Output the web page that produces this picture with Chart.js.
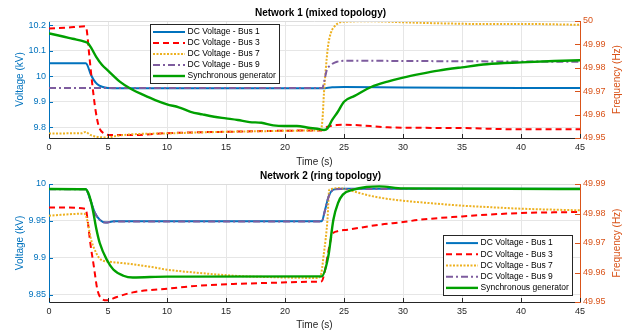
<!DOCTYPE html>
<html>
<head>
<meta charset="utf-8">
<script src="https://cdn.jsdelivr.net/npm/chart.js@4/dist/chart.umd.min.js"></script>
<style>
  html, body { margin: 0; padding: 0; background: #fff; }
  #wrap { position: relative; width: 641px; height: 331px; overflow: hidden; }
  canvas { position: absolute; left: 0; }
  #c1 { top: 0; }
  #c2 { top: 166px; }
</style>
</head>
<body>
<div id="wrap">
  <canvas id="c1" width="641" height="168"></canvas>
  <canvas id="c2" width="641" height="165"></canvas>
</div>
<script>
// ---- Network 1 (mixed topology) ----
const n1Bus1T = [0, 3.1, 3.25, 3.5, 3.8, 4.1, 4.5, 5, 6, 23.2, 24, 25, 30, 45];
const n1Bus1V = [10.05, 10.05, 10.043, 10.011, 9.984, 9.968, 9.958, 9.953, 9.952, 9.952, 9.956, 9.957, 9.955, 9.953];

const n1Bus3T = [0, 1.5, 3.1, 3.2, 3.37, 3.66, 3.94, 4.23, 4.66, 5.2, 7.2, 10, 15.8, 21.5, 23, 23.6, 24.4, 25, 25.9, 28.7, 31.5, 35, 40, 45];
const n1Bus3V = [10.187, 10.19, 10.195, 10.18, 10.102, 9.971, 9.867, 9.801, 9.775, 9.769, 9.769, 9.776, 9.782, 9.786, 9.786, 9.801, 9.808, 9.809, 9.808, 9.799, 9.797, 9.796, 9.791, 9.791];

const n1Bus7T = [0, 2.8, 3.1, 3.5, 4.4, 4.9, 5.8, 7.2, 10, 12.9, 15.8, 18.6, 21.5, 23.03, 23.17, 23.3, 23.45, 23.64, 23.87, 24.3, 25, 27.3, 30, 33, 37, 41, 45];
const n1Bus7V = [9.775, 9.776, 9.781, 9.769, 9.760, 9.759, 9.766, 9.772, 9.775, 9.779, 9.782, 9.784, 9.786, 9.788, 9.827, 9.932, 10.024, 10.115, 10.167, 10.2, 10.213, 10.215, 10.211, 10.207, 10.204, 10.204, 10.201];

const n1Bus9T = [0, 23.17, 23.3, 23.55, 23.87, 24.4, 25.1, 35, 45];
const n1Bus9V = [9.953, 9.953, 9.975, 10.024, 10.043, 10.056, 10.06, 10.058, 10.056];

const n1GenT = [0, 1, 2, 3, 3.3, 3.6, 4, 4.5, 5, 6, 7, 8, 9, 10, 11, 12, 13, 14, 15, 16, 17, 18, 19, 20, 21, 22, 23, 23.3, 23.6, 24, 24.45, 25, 25.9, 27.3, 28.7, 30, 31.5, 33, 35, 37.1, 40, 42.8, 45];
const n1GenF = [49.9947, 49.9936, 49.9924, 49.9912, 49.9905, 49.9883, 49.9847, 49.9812, 49.9788, 49.9741, 49.9708, 49.9684, 49.9662, 49.9644, 49.9631, 49.9612, 49.9601, 49.9591, 49.9584, 49.9577, 49.9568, 49.9565, 49.9554, 49.9551, 49.9551, 49.9544, 49.9537, 49.9534, 49.9541, 49.9577, 49.9610, 49.9655, 49.9680, 49.9718, 49.9741, 49.9758, 49.9774, 49.9788, 49.9802, 49.9815, 49.9823, 49.9829, 49.9832];

// ---- Network 2 (ring topology) ----
const n2Bus1T = [0, 3.1, 3.5, 3.9, 4.3, 4.8, 5.5, 23.1, 23.4, 23.7, 24.1, 24.7, 45];
const n2Bus1V = [9.9932, 9.9932, 9.9788, 9.9608, 9.9518, 9.948, 9.9495, 9.9495, 9.9653, 9.9832, 9.9923, 9.9936, 9.9936];

const n2Bus3T = [0, 3.1, 3.3, 3.5, 3.8, 4.1, 4.4, 4.9, 5.75, 7.1, 10, 12.8, 15.6, 18.4, 22.7, 23.1, 23.4, 23.7, 24, 24.4, 25.3, 28, 30, 31.5, 35, 37.1, 40, 42.8, 45];
const n2Bus3V = [9.9684, 9.9666, 9.9473, 9.9203, 9.8887, 9.8572, 9.8459, 9.8427, 9.8473, 9.8535, 9.8585, 9.8626, 9.8649, 9.8662, 9.868, 9.8684, 9.8842, 9.9112, 9.9315, 9.936, 9.9382, 9.945, 9.9486, 9.9518, 9.9562, 9.9585, 9.9608, 9.9617, 9.9622];

const n2Bus7T = [0, 3.0, 3.3, 3.5, 4, 4.4, 5.3, 6.7, 8.7, 10, 12.8, 15.6, 18.4, 22.7, 23.0, 23.3, 23.6, 23.75, 24.1, 24.4, 25, 25.8, 27.2, 28.6, 30, 31.5, 35, 37.1, 40, 42.8, 45];
const n2Bus7V = [9.9572, 9.9599, 9.9473, 9.9292, 9.9068, 9.8977, 9.8946, 9.8923, 9.8878, 9.8842, 9.8797, 9.8761, 9.8743, 9.873, 9.875, 9.9068, 9.9518, 9.9923, 9.9936, 9.9946, 9.9935, 9.99, 9.9842, 9.9801, 9.9774, 9.9752, 9.9707, 9.9689, 9.9666, 9.9653, 9.9644];

const n2Bus9T = [0, 3.1, 3.5, 3.9, 4.3, 4.8, 5.5, 23.1, 23.4, 23.7, 24.1, 24.7, 45];
const n2Bus9V = [9.9930, 9.9930, 9.9785, 9.9605, 9.9515, 9.9478, 9.9493, 9.9493, 9.9650, 9.9830, 9.9921, 9.9934, 9.9934];

const n2GenT = [0, 3.1, 3.4, 3.7, 4.0, 4.3, 4.9, 5.45, 6.3, 7.1, 10, 23.1, 23.67, 24.1, 24.5, 24.9, 25.8, 26.9, 28, 30, 45];
const n2GenF = [49.9883, 49.9882, 49.9862, 49.9815, 49.975, 49.970, 49.9643, 49.961, 49.9589, 49.9583, 49.9586, 49.9587, 49.9655, 49.9779, 49.9836, 49.9864, 49.9881, 49.989, 49.9892, 49.9885, 49.9883];

// ---- ticks ----
const timeTicks = [0, 5, 10, 15, 20, 25, 30, 35, 40, 45];
const n1VoltTicks = [9.8, 9.9, 10, 10.1, 10.2];
const n1FreqTicks = [49.95, 49.96, 49.97, 49.98, 49.99, 50];
const n2VoltTicks = [9.85, 9.9, 9.95, 10];
const n2FreqTicks = [49.95, 49.96, 49.97, 49.98, 49.99];

const seriesNames = ['DC Voltage - Bus 1', 'DC Voltage - Bus 3', 'DC Voltage - Bus 7', 'DC Voltage - Bus 9', 'Synchronous generator'];

const FONT = "'Liberation Sans', Arial, sans-serif";
const BLUE = '#0072BD';
const ORANGE = '#D95319';

function pts(t, v) {
  return t.map((x, i) => ({ x: x, y: v[i] }));
}

function makeSets(b1, b3, b7, b9, gen) {
  const common = { pointRadius: 0, fill: false, cubicInterpolationMode: 'monotone' };
  return [
    Object.assign({ label: seriesNames[0], data: b1, borderColor: '#0072BD', borderWidth: 2, yAxisID: 'y', order: 5 }, common),
    Object.assign({ label: seriesNames[1], data: b3, borderColor: '#FF0000', borderWidth: 2, borderDash: [6, 4], yAxisID: 'y', order: 4 }, common),
    Object.assign({ label: seriesNames[2], data: b7, borderColor: '#EDB120', borderWidth: 2, borderDash: [2, 1.5], yAxisID: 'y', order: 3 }, common),
    Object.assign({ label: seriesNames[3], data: b9, borderColor: '#7E5C9E', borderWidth: 2, borderDash: [7, 3, 2, 3], yAxisID: 'y', order: 2 }, common),
    Object.assign({ label: seriesNames[4], data: gen, borderColor: '#00A000', borderWidth: 2.4, yAxisID: 'y2', order: 1 }, common)
  ];
}

// legend box drawn inside the plot, MATLAB style
const legendBox = {
  id: 'legendBox',
  afterDatasetsDraw(chart, args, opts) {
    const ctx = chart.ctx;
    const sets = chart.data.datasets.slice();
    const h = opts.rowH * sets.length + 4;
    ctx.save();
    ctx.fillStyle = '#fff';
    ctx.fillRect(opts.x, opts.y, opts.w, h);
    ctx.strokeStyle = '#262626';
    ctx.lineWidth = 1;
    ctx.strokeRect(opts.x + 0.5, opts.y + 0.5, opts.w, h);
    sets.forEach((ds, i) => {
      const cy = opts.y + 2.5 + opts.rowH * (i + 0.5);
      ctx.strokeStyle = ds.borderColor;
      ctx.lineWidth = ds.borderWidth;
      ctx.setLineDash(ds.borderDash || []);
      ctx.beginPath();
      ctx.moveTo(opts.x + 3, cy);
      ctx.lineTo(opts.x + 35, cy);
      ctx.stroke();
      ctx.setLineDash([]);
      ctx.fillStyle = '#000';
      ctx.font = '8.5px ' + FONT;
      ctx.textBaseline = 'middle';
      ctx.textAlign = 'left';
      ctx.fillText(ds.label, opts.x + 37.5, cy);
    });
    ctx.restore();
  }
};

// top border, inward tick marks and the right axis title
const matlabFrame = {
  id: 'matlabFrame',
  afterDraw(chart) {
    const ctx = chart.ctx;
    const a = chart.chartArea;
    const sx = chart.scales.x, sy = chart.scales.y, sy2 = chart.scales.y2;
    ctx.save();
    ctx.lineWidth = 1;
    ctx.strokeStyle = '#dcdcdc';
    ctx.beginPath();
    ctx.moveTo(a.left, a.top + 0.5);
    ctx.lineTo(a.right, a.top + 0.5);
    ctx.stroke();

    ctx.strokeStyle = '#262626';
    ctx.beginPath();
    sx.ticks.forEach(t => {
      const px = Math.round(sx.getPixelForValue(t.value)) + 0.5;
      ctx.moveTo(px, a.bottom);
      ctx.lineTo(px, a.bottom - 4);
    });
    ctx.stroke();

    ctx.strokeStyle = BLUE;
    ctx.beginPath();
    sy.ticks.forEach(t => {
      const py = Math.round(sy.getPixelForValue(t.value)) + 0.5;
      ctx.moveTo(a.left, py);
      ctx.lineTo(a.left + 4, py);
    });
    ctx.stroke();

    ctx.strokeStyle = ORANGE;
    ctx.beginPath();
    sy2.ticks.forEach(t => {
      const py = Math.round(sy2.getPixelForValue(t.value)) + 0.5;
      ctx.moveTo(a.right, py);
      ctx.lineTo(a.right - 5, py);
    });
    ctx.stroke();

    ctx.translate(617, (a.top + a.bottom) / 2);
    ctx.rotate(-Math.PI / 2);
    ctx.fillStyle = ORANGE;
    ctx.font = '10px ' + FONT;
    ctx.textAlign = 'center';
    ctx.textBaseline = 'middle';
    ctx.fillText('Frequency (Hz)', 0, 0);
    ctx.restore();
  }
};

function fmt(v) {
  return String(parseFloat(Number(v).toFixed(3)));
}

function buildChart(canvasId, cfg) {
  const ctx = document.getElementById(canvasId).getContext('2d');
  return new Chart(ctx, {
    type: 'line',
    data: { datasets: cfg.sets },
    plugins: [legendBox, matlabFrame],
    options: {
      responsive: false,
      animation: false,
      layout: { padding: 0 },
      plugins: {
        legend: { display: false },
        tooltip: { enabled: false },
        title: {
          display: true,
          text: cfg.title,
          color: '#000',
          font: { family: FONT, size: 10, weight: 'bold', lineHeight: 1.2 },
          padding: cfg.titlePad
        },
        legendBox: cfg.legend
      },
      scales: {
        x: {
          type: 'linear',
          min: 0,
          max: 45,
          afterBuildTicks: s => { s.ticks = timeTicks.map(v => ({ value: v })); },
          afterFit: s => { s.height = cfg.xHeight; },
          ticks: { color: '#262626', font: { family: FONT, size: 9 }, padding: 4, maxRotation: 0, callback: v => String(v) },
          grid: { color: '#e6e6e6', drawTicks: false },
          border: { color: '#262626', width: 1 },
          title: { display: true, text: 'Time (s)', color: '#262626', font: { family: FONT, size: 10, lineHeight: 1.2 }, padding: 0 }
        },
        y: {
          position: 'left',
          min: cfg.yMin,
          max: cfg.yMax,
          afterBuildTicks: s => { s.ticks = cfg.yTicks.map(v => ({ value: v })); },
          afterFit: s => { s.width = 49; },
          ticks: { color: BLUE, font: { family: FONT, size: 9 }, padding: 3, callback: v => fmt(v) },
          grid: { color: '#e6e6e6', drawTicks: false },
          border: { color: BLUE, width: 1 },
          title: { display: true, text: 'Voltage (kV)', color: BLUE, font: { family: FONT, size: 10, lineHeight: 1.2 }, padding: { top: 14, bottom: 0 } }
        },
        y2: {
          position: 'right',
          min: cfg.fMin,
          max: cfg.fMax,
          afterBuildTicks: s => { s.ticks = cfg.fTicks.map(v => ({ value: v })); },
          afterFit: s => { s.width = 61; },
          ticks: { color: ORANGE, font: { family: FONT, size: 9 }, padding: 3, callback: v => fmt(v) },
          grid: { display: false, drawTicks: false },
          border: { color: ORANGE, width: 1 },
          title: { display: false }
        }
      }
    }
  });
}

buildChart('c1', {
  title: 'Network 1 (mixed topology)',
  titlePad: { top: 7, bottom: 2 },
  xHeight: 30,
  yMin: 9.757, yMax: 10.216, yTicks: n1VoltTicks,
  fMin: 49.95, fMax: 50, fTicks: n1FreqTicks,
  legend: { x: 150, y: 24, w: 129, rowH: 11 },
  sets: makeSets(pts(n1Bus1T, n1Bus1V), pts(n1Bus3T, n1Bus3V), pts(n1Bus7T, n1Bus7V), pts(n1Bus9T, n1Bus9V), pts(n1GenT, n1GenF))
});

buildChart('c2', {
  title: 'Network 2 (ring topology)',
  titlePad: { top: 4, bottom: 2 },
  xHeight: 29,
  yMin: 9.8405, yMax: 10.0, yTicks: n2VoltTicks,
  fMin: 49.95, fMax: 49.99, fTicks: n2FreqTicks,
  legend: { x: 443, y: 69, w: 129, rowH: 11.2 },
  sets: makeSets(pts(n2Bus1T, n2Bus1V), pts(n2Bus3T, n2Bus3V), pts(n2Bus7T, n2Bus7V), pts(n2Bus9T, n2Bus9V), pts(n2GenT, n2GenF))
});
</script>
</body>
</html>
